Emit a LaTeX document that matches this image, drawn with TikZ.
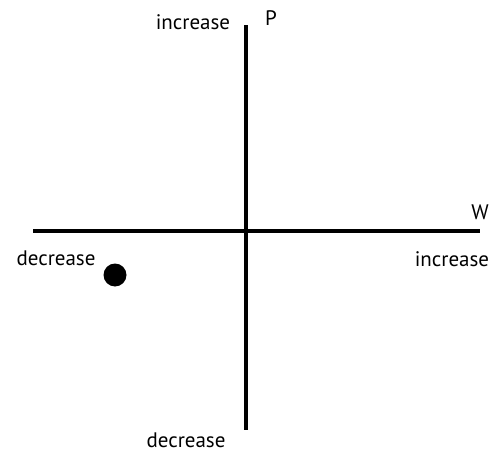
\documentclass[tikz,border=0pt]{standalone}
\usepackage{fontspec}
\setmainfont{PT Sans}
\begin{document}
\begin{tikzpicture}[x=1pt,y=-1pt,
  axis/.style={line width=3.2pt},
  lbl/.style={inner sep=0pt, font=\fontsize{21}{24}\selectfont},
  dot/.style={circle, fill=black, inner sep=0pt, minimum size=23pt}]
	\useasboundingbox (0,0) rectangle (496,455);
	% axes
	\coordinate (ptop) at (246,25);
	\coordinate (pbot) at (246,430);
	\coordinate (wleft) at (33,231);
	\coordinate (wright) at (480,231);
	\draw[axis] (ptop) -- (pbot);
	\draw[axis] (wleft) -- (wright);
	% labels
	\node[lbl] (pinc) at (193,22) {increase};
	\node[lbl] (plab) at (271,18) {P};
	\node[lbl] (wlab) at (480,212) {W};
	\node[lbl] (wdec) at (56,258) {decrease};
	\node[lbl] (winc) at (452,259) {increase};
	\node[lbl] (pdec) at (186,440) {decrease};
	% current position
	\node[dot] (state) at (115,275) {};
\end{tikzpicture}
\end{document}
